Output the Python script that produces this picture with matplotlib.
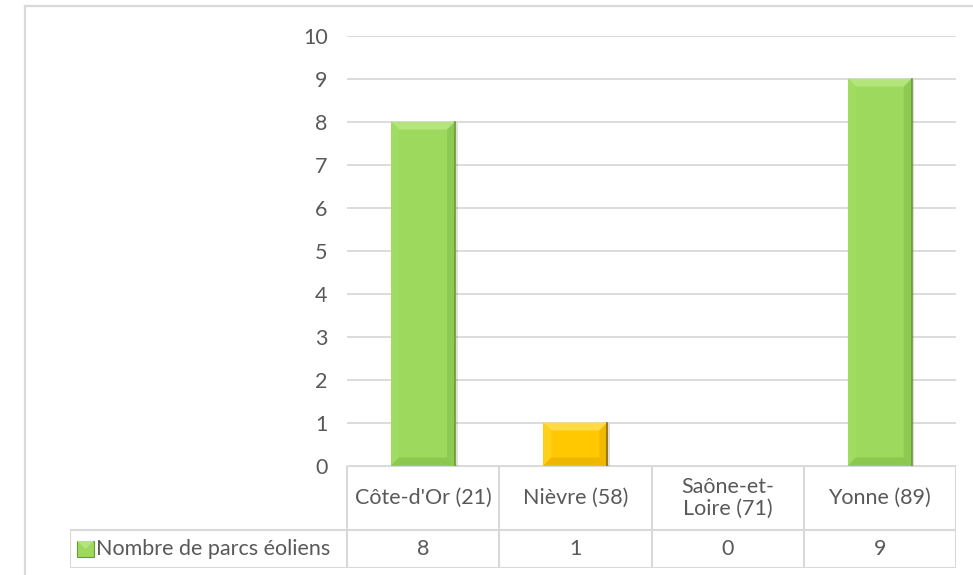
import matplotlib
matplotlib.use("Agg")
import matplotlib.pyplot as plt
import numpy as np
from matplotlib.patches import Rectangle, Polygon
from matplotlib.lines import Line2D

plt.rcParams['font.family'] = ['Lato', 'DejaVu Sans']

# ---- data ----
categories = ["Côte-d'Or (21)", "Nièvre (58)", "Saône-et-\nLoire (71)", "Yonne (89)"]
values = [8, 1, 0, 9]
series_name = "Nombre de parcs éoliens"
yticks = [0, 1, 2, 3, 4, 5, 6, 7, 8, 9, 10]

# ---- style ----
TEXT = '#595959'
GRID = '#D9D9D9'
GREEN = dict(face='#9CD95C', light='#B4E47C', side='#A0DB62', dark='#7DB845', edge='#6A9A36')
YELLOW = dict(face='#FFC800', light='#FFDA45', side='#FFD01A', dark='#E0A800', edge='#8A6A00')
bar_styles = [GREEN, YELLOW, GREEN, GREEN]
FS = 15.5

W, H = 973, 575
fig = plt.figure(figsize=(W / 100, H / 100), dpi=100)


def rect(l, t, r, b):
    return [l / W, 1 - b / H, (r - l) / W, (b - t) / H]


PL, PR, PT, PB = 347, 956, 35.7, 465.5
ax = fig.add_axes(rect(PL, PT, PR, PB))
n = len(categories)
ax.set_xlim(-0.5, n - 0.5)
ax.set_ylim(yticks[0], yticks[-1])
ax.set_yticks(yticks)
ax.set_yticklabels([str(t) for t in yticks])
ax.set_xticks([])
ax.tick_params(axis='y', length=0, pad=14, labelsize=FS, labelcolor=TEXT)
for s in ax.spines.values():
    s.set_visible(False)
ax.yaxis.grid(True, color=GRID, linewidth=1.3)
ax.set_axisbelow(True)

px_x = (PR - PL) / n
px_y = (PB - PT) / (yticks[-1] - yticks[0])
bw = 0.42
bev = 8

for i, (v, st) in enumerate(zip(values, bar_styles)):
    if v <= 0:
        continue
    x0, x1 = i - bw / 2, i + bw / 2
    bx = bev / px_x
    by = min(bev / px_y, v / 2.5)
    ax.add_patch(Rectangle((x0 + 2.5 / px_x, 0), bw, v - 1 / px_y, facecolor='#000000', alpha=0.12,
                           edgecolor='none', zorder=2))
    ax.add_patch(Rectangle((x0, 0), bw, v, facecolor=st['face'], edgecolor='none', zorder=3))
    ax.add_patch(Polygon([(x0, v), (x1, v), (x1 - bx, v - by), (x0 + bx, v - by)],
                         facecolor=st['light'], edgecolor='none', zorder=4))
    ax.add_patch(Polygon([(x0, 0), (x0, v), (x0 + bx, v - by), (x0 + bx, by)],
                         facecolor=st['side'], edgecolor='none', zorder=4))
    ax.add_patch(Polygon([(x1, 0), (x1, v), (x1 - bx, v - by), (x1 - bx, by)],
                         facecolor=st['dark'], edgecolor='none', alpha=0.45, zorder=4))
    ax.add_patch(Polygon([(x0, 0), (x1, 0), (x1 - bx, by), (x0 + bx, by)],
                         facecolor=st['dark'], edgecolor='none', alpha=0.5, zorder=4))
    ax.plot([x1, x1], [0, v], color=st['edge'], linewidth=1.2, zorder=5)

# ---- data table ----
TL, TT, TB = 70, PB, 568
ROWY = 530
tax = fig.add_axes(rect(TL, TT, PR, TB))
left_units = (PL - TL) / px_x
tax.set_xlim(-0.5 - left_units, n - 0.5)
tax.set_ylim(0, 1)
tax.axis('off')
ymid = (TB - ROWY) / (TB - TT)
lc = dict(color=GRID, linewidth=1.5, solid_capstyle='butt')
xl = -0.5 - left_units
tax.plot([-0.5, n - 0.5], [1, 1], **lc)
tax.plot([xl, n - 0.5], [ymid, ymid], **lc)
tax.plot([xl, n - 0.5], [0, 0], **lc)
tax.plot([xl, xl], [0, ymid], **lc)
for k in range(n + 1):
    tax.plot([k - 0.5, k - 0.5], [0, 1], **lc)

for i, (c, v) in enumerate(zip(categories, values)):
    tax.text(i, (1 + ymid) / 2, c, ha='center', va='center', fontsize=FS,
             color=TEXT, linespacing=1.15)
    tax.text(i, ymid / 2, str(v), ha='center', va='center', fontsize=FS, color=TEXT)

# legend key
kx0 = xl + 7 / px_x
kw = 17 / px_x
kh = 16 / (TB - TT)
ky0 = ymid / 2 - kh / 2
tax.add_patch(Rectangle((kx0, ky0), kw, kh, facecolor=GREEN['face'],
                        edgecolor=GREEN['edge'], linewidth=0.8))
tax.add_patch(Polygon([(kx0, ky0 + kh), (kx0 + kw, ky0 + kh), (kx0 + kw / 2, ky0 + kh / 2)],
                      facecolor=GREEN['light'], edgecolor='none'))
tax.text(kx0 + kw + 2 / px_x, ymid / 2, series_name, ha='left', va='center',
         fontsize=FS, color=TEXT)

# outer chart frame
fig.add_artist(Line2D([25 / W, 25 / W], [0, 1 - 6 / H], color=GRID, linewidth=1.6,
                      transform=fig.transFigure))
fig.add_artist(Line2D([25 / W, 1], [1 - 6 / H, 1 - 6 / H], color=GRID, linewidth=1.6,
                      transform=fig.transFigure))

fig.savefig('out.png', dpi=100, facecolor='white')
